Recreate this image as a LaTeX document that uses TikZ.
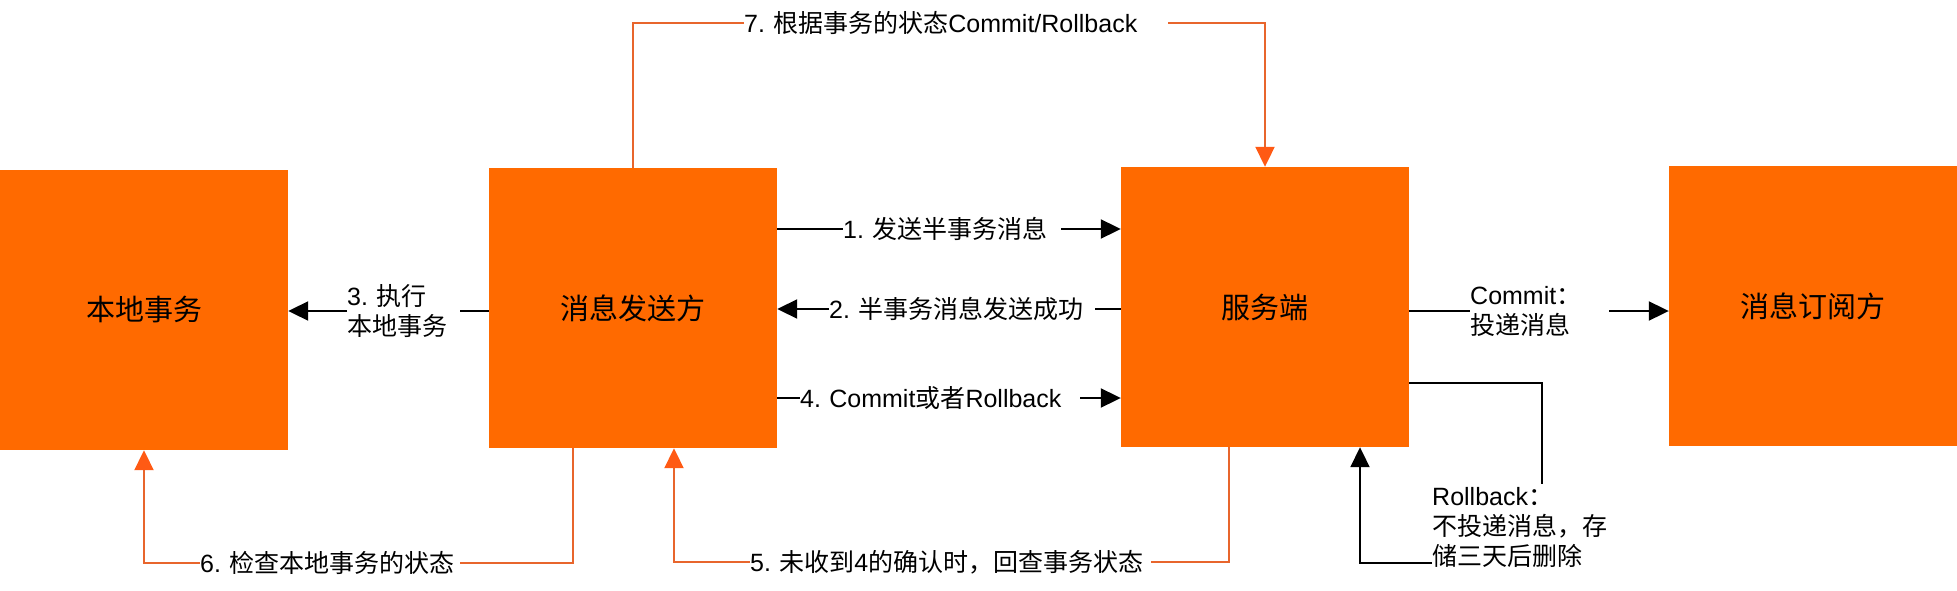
\documentclass[tikz,border=0pt]{standalone}
\usepackage{fontspec}
\setmainfont{Liberation Sans}
\newfontfamily\zh{Noto Sans CJK SC}
\usepackage{tikz}
\usetikzlibrary{arrows.meta}
\frenchspacing

\definecolor{boxorange}{HTML}{FF6A00}
\definecolor{lineorange}{HTML}{E8652C}
\definecolor{tiporange}{HTML}{FF5A14}

\begin{document}
\begin{tikzpicture}[x=1pt, y=-1pt,
		box/.style={fill=boxorange, minimum width=288pt, minimum height=280pt, inner sep=0pt, font=\zh\fontsize{29}{35}\selectfont},
		lbl/.style={fill=white, inner xsep=0pt, inner ysep=3pt, align=left, font=\fontsize{25}{30}\selectfont},
		blk/.style={line width=2pt, black},
		org/.style={line width=2pt, lineorange},
		blktip/.style={-{Triangle[length=20pt,width=19pt]}},
		orgtip/.style={-{Triangle[length=20pt,width=19pt,color=tiporange]}}]
		
		\useasboundingbox (0,0) rectangle (1957,591);
		
		% --- boxes ---
		\node[box] (A) at (144,310) {本地事务};
		\node[box] (B) at (633,308) {消息发送方};
		\node[box] (C) at (1265,307) {服务端};
		\node[box] (D) at (1813,306) {消息订阅方};
		
		% --- labels ---
		\node[lbl, anchor=west, text width=218pt] (l1) at (843,229) {1. {\zh 发送半事务消息}};
		\node[lbl, anchor=west, text width=266pt] (l2) at (829,309) {2. {\zh 半事务消息发送成功}};
		\node[lbl, anchor=west, text width=113pt] (l3) at (347,311) {3. {\zh 执行}\\{\zh 本地事务}};
		\node[lbl, anchor=west, text width=280pt] (l4) at (800,398) {4. Commit{\zh 或者}Rollback};
		\node[lbl, anchor=west, text width=401pt] (l5) at (750,562) {5. {\zh 未收到}4{\zh 的确认时，回查事务状态}};
		\node[lbl, anchor=west, text width=260pt] (l6) at (200,563) {6. {\zh 检查本地事务的状态}};
		\node[lbl, anchor=west, text width=424pt] (l7) at (744,23) {7. {\zh 根据事务的状态}Commit/Rollback};
		\node[lbl, anchor=west, text width=139pt] (lc) at (1470,311) {Commit{\zh ：}\\{\zh 投递消息}};
		\node[lbl, anchor=north west, text width=178pt] (rb) at (1432,484) {Rollback{\zh ：}\\{\zh 不投递消息，存}\\{\zh 储三天后删除}};
		\coordinate (rbtop) at (1542,484);
		\coordinate (rbleft) at (1432,563);
		
		% --- black connectors ---
		\draw[blk] (B.east |- l1) -- (l1.west);
		\draw[blk, blktip] (l1.east) -- (C.west |- l1);
		\draw[blk] (C.west |- l2) -- (l2.east);
		\draw[blk, blktip] (l2.west) -- (B.east |- l2);
		\draw[blk] (B.west |- l3) -- (l3.east);
		\draw[blk, blktip] (l3.west) -- (A.east |- l3);
		\draw[blk] (B.east |- l4) -- (l4.west);
		\draw[blk, blktip] (l4.east) -- (C.west |- l4);
		\draw[blk] (C.east |- lc) -- (lc.west);
		\draw[blk, blktip] (lc.east) -- (D.west |- lc);
		
		% rollback
		\draw[blk] ([yshift=-76pt]C.east) -| (rbtop);
		\draw[blk, blktip] (rbleft) -| ([xshift=95pt]C.south);
		
		% --- orange connectors ---
		\draw[org] (B.north) |- (l7.west);
		\draw[org, orgtip] (l7.east) -| (C.north);
		\draw[org] ([xshift=-36pt]C.south) |- (l5.east);
		\draw[org, orgtip] (l5.west) -| ([xshift=41pt]B.south);
		\draw[org] ([xshift=-60pt]B.south) |- (l6.east);
		\draw[org, orgtip] (l6.west) -| (A.south);
		
	\end{tikzpicture}
\end{document}
